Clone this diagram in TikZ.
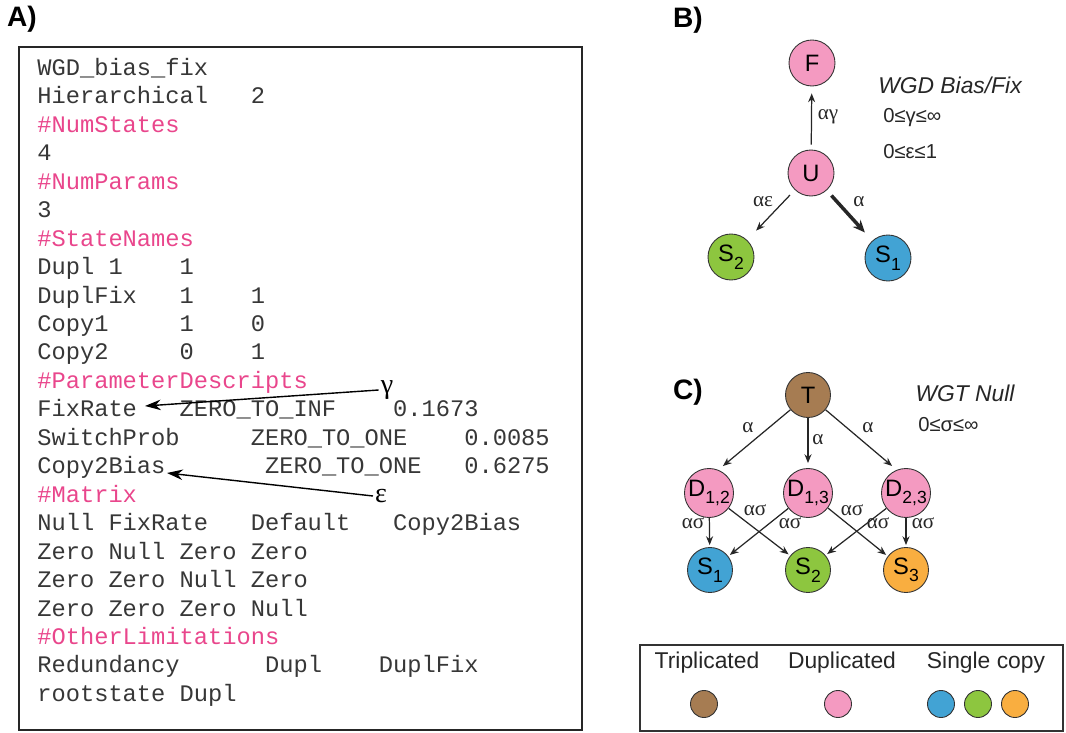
\documentclass[tikz,border=0pt]{standalone}
\usepackage{fontspec}
\setmainfont{Liberation Sans}
\newfontfamily\codefont{Liberation Mono}
\newfontfamily\greekfont{Liberation Serif}
\usetikzlibrary{math,arrows.meta}

\definecolor{codepink}{RGB}{233,70,140}
\definecolor{codegray}{RGB}{55,55,55}
\definecolor{duppink}{RGB}{244,154,193}
\definecolor{tribrown}{RGB}{166,124,82}
\definecolor{oneblue}{RGB}{66,163,212}
\definecolor{onegreen}{RGB}{141,198,63}
\definecolor{oneorange}{RGB}{249,174,64}
\newcommand{\lowsub}[1]{\raisebox{-0.6ex}{\fontsize{10}{10}\selectfont #1}}

\begin{document}
\begin{tikzpicture}[x=0.02cm, y=-0.02cm]
\tikzstyle{code line}=[anchor=base west, inner sep=0pt, text=codegray, font=\codefont\fontsize{13.5}{16}\selectfont]
\tikzstyle{code head}=[code line, text=codepink]
\tikzstyle{panel}=[inner sep=0pt, font=\fontsize{16}{16}\selectfont\bfseries]
\tikzstyle{title}=[inner sep=0pt, font=\fontsize{13}{13}\selectfont\itshape, text=black!85]
\tikzstyle{bound}=[anchor=west, inner sep=0pt, font=\fontsize{11.5}{11.5}\selectfont, text=black!85]
\tikzstyle{copy node}=[circle, draw=black!80, line width=0.5pt, minimum size=0.92cm, inner sep=0pt, font=\fontsize{13.5}{13.5}\selectfont]
\tikzstyle{dup node}=[copy node, fill=duppink]
\tikzstyle{tri node}=[copy node, fill=tribrown]
\tikzstyle{rate}=[-{Stealth[length=5pt, width=4pt]}, line width=0.7pt, draw=black!85]
\tikzstyle{rate label}=[inner sep=0pt, font=\greekfont\fontsize{12}{12}\selectfont, text=black!85]
\tikzstyle{note}=[inner sep=1pt, font=\greekfont\fontsize{16}{16}\selectfont]
\tikzstyle{dot}=[circle, draw=black!80, line width=0.5pt, minimum size=0.54cm, inner sep=0pt]

\useasboundingbox (0,0) rectangle (1066,733);

% A) the model file
\tikzmath{
    \lh = 28.45;
    \yb = 75.5;
}
\node[panel] (pa) at (22,19) {A)};
\draw[line width=1.1pt, draw=black!85] (19,47) rectangle (582,730);

\node[code line] (ln1) at (37, \yb) {WGD\_bias\_fix};
\node[code line] (ln2) at (37, \yb+\lh) {Hierarchical~~~2};
\node[code head] (ln3) at (37, \yb+2*\lh) {\#NumStates};
\node[code line] (ln4) at (37, \yb+3*\lh) {4};
\node[code head] (ln5) at (37, \yb+4*\lh) {\#NumParams};
\node[code line] (ln6) at (37, \yb+5*\lh) {3};
\node[code head] (ln7) at (37, \yb+6*\lh) {\#StateNames};
\node[code line] (ln8) at (37, \yb+7*\lh) {Dupl~1~~~~1};
\node[code line] (ln9) at (37, \yb+8*\lh) {DuplFix~~~1~~~~1};
\node[code line] (ln10) at (37, \yb+9*\lh) {Copy1~~~~~1~~~~0};
\node[code line] (ln11) at (37, \yb+10*\lh) {Copy2~~~~~0~~~~1};
\node[code head] (ln12) at (37, \yb+11*\lh) {\#ParameterDescripts};
\node[code line] (ln13) at (37, \yb+12*\lh) {FixRate~~~ZERO\_TO\_INF~~~~0.1673};
\node[code line] (ln14) at (37, \yb+13*\lh) {SwitchProb~~~~~ZERO\_TO\_ONE~~~~0.0085};
\node[code line] (ln15) at (37, \yb+14*\lh) {Copy2Bias~~~~~~~ZERO\_TO\_ONE~~~0.6275};
\node[code head] (ln16) at (37, \yb+15*\lh) {\#Matrix};
\node[code line] (ln17) at (37, \yb+16*\lh) {Null~FixRate~~~Default~~~Copy2Bias};
\node[code line] (ln18) at (37, \yb+17*\lh) {Zero~Null~Zero~Zero};
\node[code line] (ln19) at (37, \yb+18*\lh) {Zero~Zero~Null~Zero};
\node[code line] (ln20) at (37, \yb+19*\lh) {Zero~Zero~Zero~Null};
\node[code head] (ln21) at (37, \yb+20*\lh) {\#OtherLimitations};
\node[code line] (ln22) at (37, \yb+21*\lh) {Redundancy~~~~~~Dupl~~~~DuplFix};
\node[code line] (ln23) at (37, \yb+22*\lh) {rootstate~Dupl};

\node[note] (gam) at (387,390) {γ};
\node[note] (eps) at (381,496) {ε};
\coordinate (fixend) at (145,406);
\coordinate (biasend) at (167,473);
\draw[-{Stealth[length=9pt, width=6pt]}, line width=0.8pt] (gam.west) -- (fixend);
\draw[-{Stealth[length=9pt, width=6pt]}, line width=0.8pt] (eps.west) -- (biasend);

% B) WGD bias/fix
\node[panel] (pb) at (688,20) {B)};
\node[dup node] (F) at (812,63) {F};
\node[dup node] (U) at (811,173) {U};
\node[copy node, fill=onegreen] (S2b) at (731,257) {S\lowsub{2}};
\node[copy node, fill=oneblue] (S1b) at (888,258) {S\lowsub{1}};

\draw[rate, shorten <=0.1cm, shorten >=0.14cm] (U) -- (F);
\draw[rate, shorten <=0.14cm, shorten >=0.26cm] (U) -- (S2b);
\draw[rate, line width=2pt, -{Stealth[length=7pt, width=6pt]}, shorten <=0.14cm, shorten >=0.22cm] (U) -- (S1b);

\node[rate label] (lUF) at (828,117) {αγ};
\node[rate label] (lUS2) at (763,202) {αε};
\node[rate label] (lUS1) at (859,202) {α};

\node[title] (tb) at (950,85) {WGD Bias/Fix};
\node[bound] (bg) at (883,118) {0≤γ≤∞};
\node[bound] (be) at (883,152) {0≤ε≤1};

% C) WGT null
\node[panel] (pc) at (688,392) {C)};
\node[tri node, minimum size=0.9cm] (T) at (808,395) {T};
\node[dup node, minimum size=0.9cm] (D12) at (709,493) {D\lowsub{1,2}};
\node[dup node, minimum size=0.9cm] (D13) at (808,493) {D\lowsub{1,3}};
\node[dup node, minimum size=0.9cm] (D23) at (906,493) {D\lowsub{2,3}};
\node[copy node, minimum size=0.9cm, fill=oneblue] (S1c) at (710,570) {S\lowsub{1}};
\node[copy node, minimum size=0.9cm, fill=onegreen] (S2c) at (808,570) {S\lowsub{2}};
\node[copy node, minimum size=0.9cm, fill=oneorange] (S3c) at (906,570) {S\lowsub{3}};

\draw[rate, shorten >=0.12cm] (T.220) -- (D12.68);
\draw[rate, shorten >=0.1cm] (T) -- (D13);
\draw[rate, shorten >=0.12cm] (T.320) -- (D23.112);
\draw[rate, shorten >=0.04cm] (D12) -- (S1c);
\draw[rate, shorten >=0.04cm] (D12.322) -- (S2c.141);
\draw[rate, shorten >=0.04cm] (D13.218) -- (S1c.37);
\draw[rate, shorten >=0.04cm] (D13.323) -- (S3c.143);
\draw[rate, shorten >=0.04cm] (D23.218) -- (S2c.40);
\draw[rate, shorten >=0.04cm] (D23) -- (S3c);

\node[rate label] (lTD12) at (748,428) {α};
\node[rate label] (lTD13) at (818,440) {α};
\node[rate label] (lTD23) at (868,428) {α};
\node[rate label] (l11) at (693,523) {ασ};
\node[rate label] (l12) at (755,510) {ασ};
\node[rate label] (l31) at (790,523) {ασ};
\node[rate label] (l33) at (852,510) {ασ};
\node[rate label] (l22) at (878,523) {ασ};
\node[rate label] (l23) at (923,523) {ασ};

\node[title] (tc) at (965,393) {WGT Null};
\node[bound] (bs) at (918,425) {0≤σ≤∞};

% legend
\draw[line width=0.8pt, draw=black!80] (640,645) rectangle (1063,731);
\node[inner sep=0pt, font=\fontsize{13}{13}\selectfont, text=black!85] (kt) at (707,663) {Triplicated};
\node[inner sep=0pt, font=\fontsize{13}{13}\selectfont, text=black!85] (kd) at (842,663) {Duplicated};
\node[inner sep=0pt, font=\fontsize{13}{13}\selectfont, text=black!85] (ks) at (986,663) {Single copy};
\node[dot, fill=tribrown] (ct) at (704,704) {};
\node[dot, fill=duppink] (cd) at (838,704) {};
\node[dot, fill=oneblue] (c1) at (941,704) {};
\node[dot, fill=onegreen] (c2) at (978,704) {};
\node[dot, fill=oneorange] (c3) at (1015,704) {};

\end{tikzpicture}
\end{document}
